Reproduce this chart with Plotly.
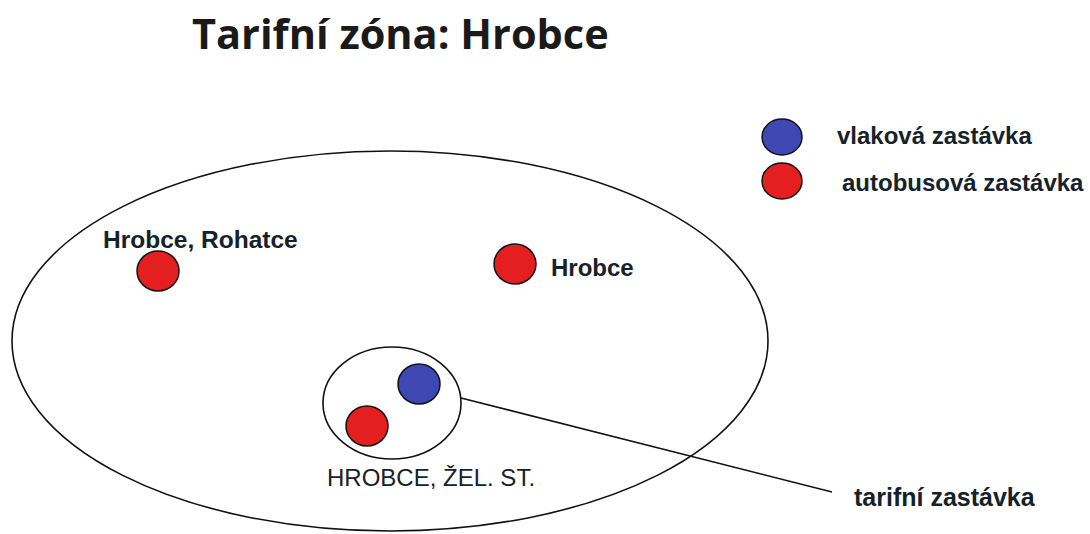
import plotly.graph_objects as go

# ---- data ----
title_text = "Tarifní zóna: Hrobce"

stop_names = ["Hrobce, Rohatce", "Hrobce", "HROBCE, ŽEL. ST.", "HROBCE, ŽEL. ST."]
stop_kinds = ["bus", "bus", "bus", "train"]
stop_x = [158, 515, 367, 419]
stop_y = [271, 264, 426, 384]

legend_labels = ["vlaková zastávka", "autobusová zastávka"]
legend_kinds = ["train", "bus"]
legend_y = [137, 181]

zone_label = "tarifní zastávka"

# ---- styles ----
FILL = {"train": "#3f47b3", "bus": "#e3201f"}
INK = "#15222a"
DOT_RX, DOT_RY = 21, 20
FAM = "Liberation Sans, Arial, sans-serif"

fig = go.Figure()
shapes = []
annotations = []

def ellipse(cx, cy, rx, ry, fill="rgba(0,0,0,0)", lw=1.6):
    return dict(type="circle", xref="x", yref="y",
                x0=cx - rx, x1=cx + rx, y0=cy - ry, y1=cy + ry,
                fillcolor=fill, line=dict(color="#111111", width=lw))

# zone ellipse and tariff stop ellipse
shapes.append(ellipse(390, 341, 378, 190))
shapes.append(ellipse(392, 403, 69, 56))
# connector line
shapes.append(dict(type="line", xref="x", yref="y", x0=461, y0=398, x1=832, y1=492,
                   line=dict(color="#111111", width=1.6)))

for k, x, y in zip(stop_kinds, stop_x, stop_y):
    shapes.append(ellipse(x, y, DOT_RX, DOT_RY, fill=FILL[k], lw=1.5))

for k, y in zip(legend_kinds, legend_y):
    shapes.append(ellipse(782, y, 20, 18, fill=FILL[k], lw=1.5))

def label(text, x, y, size, xanchor="left", bold=True):
    annotations.append(dict(text=("<b>%s</b>" % text) if bold else text,
                            x=x, y=y, xref="x", yref="y", showarrow=False,
                            xanchor=xanchor, yanchor="middle",
                            font=dict(family=FAM, size=size, color=INK)))

label(stop_names[0], 200, 239, 24.5, "center")
label(stop_names[1], 549, 267, 24)
label(stop_names[2], 431, 477, 24, "center", bold=False)
label(legend_labels[0], 835, 135, 24)
label(legend_labels[1], 840, 182, 24)
label(zone_label, 852, 497, 25)

annotations.append(dict(text="<b>%s</b>" % title_text, x=400, y=33, xref="x", yref="y",
                        showarrow=False, xanchor="center", yanchor="middle",
                        font=dict(family="Open Sans, sans-serif", size=41.5, color="#1a1a1a")))

fig.update_layout(
    width=1090, height=534,
    margin=dict(l=0, r=0, t=0, b=0),
    paper_bgcolor="white", plot_bgcolor="white",
    xaxis=dict(range=[0, 1090], visible=False, fixedrange=True),
    yaxis=dict(range=[534, 0], visible=False, fixedrange=True),
    shapes=shapes, annotations=annotations, showlegend=False,
)

fig.write_html("out.html", config={"displayModeBar": False},
               post_script="document.body.style.margin='0';document.body.style.overflow='hidden';")
